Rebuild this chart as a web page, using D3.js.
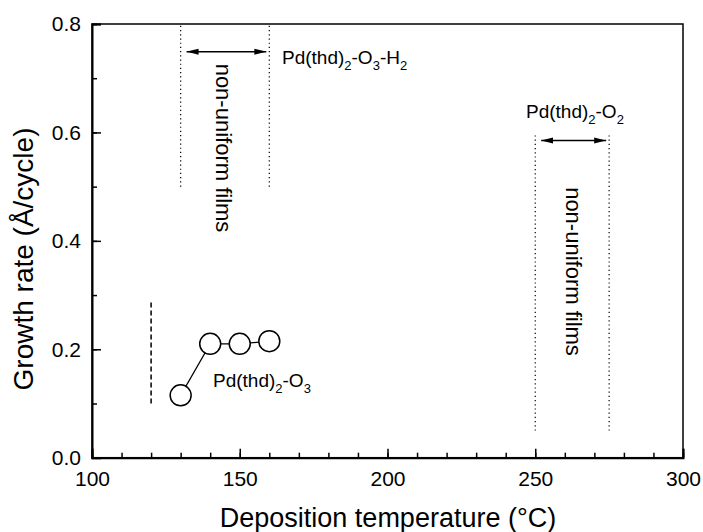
<!DOCTYPE html>
<html>
<head>
<meta charset="utf-8">
<script src="https://cdn.jsdelivr.net/npm/d3@7"></script>
<style>
  body { margin: 0; background: #fff; }
  text { font-family: Arial, "Liberation Sans", Helvetica, sans-serif; fill: #000; }
</style>
</head>
<body>
<div id="chart"></div>
<script>

// growth rate data, Pd(thd)2-O3
let temps = [130, 140, 150, 160];
let rates = [0.115, 0.21, 0.21, 0.215];

// axis ticks
let xMajor = [100, 150, 200, 250, 300];
let xMinor = d3.range(100, 301, 10);
let yMajor = [0.0, 0.2, 0.4, 0.6, 0.8];
let yMinor = d3.range(0, 0.81, 0.1);

// window lines [x, yFrom, yTo]
let dottedLines = [[130, 0.5, 0.8], [160, 0.5, 0.8], [250, 0.05, 0.6], [275, 0.05, 0.6]];
let dashedLines = [[120, 0.1, 0.29]];
// arrows [xFrom, xTo, y]
let arrows = [[132, 159, 0.749], [252, 274, 0.585]];

// label parts: [text, subscript?]
let labelO3H2 = [["Pd(thd)", 0], ["2", 1], ["-O", 0], ["3", 1], ["-H", 0], ["2", 1]];
let labelO2 = [["Pd(thd)", 0], ["2", 1], ["-O", 0], ["2", 1]];
let labelO3 = [["Pd(thd)", 0], ["2", 1], ["-O", 0], ["3", 1]];

let width = 703;
let height = 532;
let margin = { left: 92, top: 24, right: 20, bottom: 74.3 };

let svg = d3.select("#chart")
    .append("svg")
    .attr("width", width)
    .attr("height", height);

let x = d3.scaleLinear()
    .domain([100, 300])
    .range([margin.left, width - margin.right]);

let y = d3.scaleLinear()
    .domain([0, 0.8])
    .range([height - margin.bottom, margin.top]);

// frame
svg.append("rect")
    .attr("x", x(100))
    .attr("y", y(0.8))
    .attr("width", x(300) - x(100))
    .attr("height", y(0) - y(0.8))
    .attr("fill", "none")
    .attr("stroke", "#000")
    .attr("stroke-width", 1.5);

// x axis
let xAxisMinor = svg.append("g")
    .attr("transform", "translate(0," + y(0) + ")")
    .call(d3.axisBottom(x).tickValues(xMinor).tickSize(-5).tickFormat(""));
xAxisMinor.select(".domain").remove();

let xAxis = svg.append("g")
    .attr("transform", "translate(0," + y(0) + ")")
    .call(d3.axisBottom(x).tickValues(xMajor).tickSize(-9).tickPadding(13).tickFormat(d3.format("d")));
xAxis.select(".domain").attr("stroke-width", 2);

// y axis
let yAxisMinor = svg.append("g")
    .attr("transform", "translate(" + x(100) + ",0)")
    .call(d3.axisLeft(y).tickValues(yMinor).tickSize(-5).tickFormat(""));
yAxisMinor.select(".domain").remove();

let yAxis = svg.append("g")
    .attr("transform", "translate(" + x(100) + ",0)")
    .call(d3.axisLeft(y).tickValues(yMajor).tickSize(-9).tickPadding(11).tickFormat(d3.format(".1f")));
yAxis.select(".domain").attr("stroke-width", 2);

svg.selectAll(".tick line").attr("stroke", "#000").attr("stroke-width", 1.5);
svg.selectAll(".tick text")
    .style("font-size", "21px")
    .style("font-family", "Arial, 'Liberation Sans', Helvetica, sans-serif");

// axis titles
svg.append("text")
    .attr("x", 388)
    .attr("y", 527)
    .attr("text-anchor", "middle")
    .style("font-size", "27px")
    .text("Deposition temperature (°C)");

svg.append("text")
    .attr("transform", "translate(33,259) rotate(-90)")
    .attr("text-anchor", "middle")
    .style("font-size", "28px")
    .text("Growth rate (Å/cycle)");

// window lines
svg.selectAll("line.dotted")
    .data(dottedLines)
    .join("line")
    .attr("class", "dotted")
    .attr("x1", d => x(d[0]))
    .attr("x2", d => x(d[0]))
    .attr("y1", d => y(d[1]))
    .attr("y2", d => y(d[2]))
    .attr("stroke", "#000")
    .attr("stroke-width", 1.2)
    .attr("stroke-dasharray", "1.2,3");

svg.selectAll("line.dashed")
    .data(dashedLines)
    .join("line")
    .attr("class", "dashed")
    .attr("x1", d => x(d[0]))
    .attr("x2", d => x(d[0]))
    .attr("y1", d => y(d[1]))
    .attr("y2", d => y(d[2]))
    .attr("stroke", "#000")
    .attr("stroke-width", 1.5)
    .attr("stroke-dasharray", "5,3");

// arrows
let defs = svg.append("defs");
["start", "end"].forEach(function(k) {
    defs.append("marker")
        .attr("id", "arrow-" + k)
        .attr("viewBox", "0 0 12 8")
        .attr("refX", k === "end" ? 12 : 0)
        .attr("refY", 4)
        .attr("markerWidth", 12)
        .attr("markerHeight", 8)
        .attr("markerUnits", "userSpaceOnUse")
        .attr("orient", "auto")
        .append("path")
        .attr("d", k === "end" ? "M0,1 L12,4 L0,7 Z" : "M12,1 L0,4 L12,7 Z")
        .attr("fill", "#000");
});

svg.selectAll("line.arrow")
    .data(arrows)
    .join("line")
    .attr("class", "arrow")
    .attr("x1", d => x(d[0]))
    .attr("x2", d => x(d[1]))
    .attr("y1", d => y(d[2]))
    .attr("y2", d => y(d[2]))
    .attr("stroke", "#000")
    .attr("stroke-width", 1.5)
    .attr("marker-start", "url(#arrow-start)")
    .attr("marker-end", "url(#arrow-end)");

// data line + circles
let pts = temps.map((t, i) => [t, rates[i]]);

svg.append("path")
    .datum(pts)
    .attr("fill", "none")
    .attr("stroke", "#000")
    .attr("stroke-width", 1.2)
    .attr("d", d3.line().x(d => x(d[0])).y(d => y(d[1])));

svg.selectAll("circle.pt")
    .data(pts)
    .join("circle")
    .attr("class", "pt")
    .attr("cx", d => x(d[0]))
    .attr("cy", d => y(d[1]))
    .attr("r", 10.5)
    .attr("fill", "#fff")
    .attr("stroke", "#000")
    .attr("stroke-width", 1.5);

// labels with subscripts
const chemLabel = function(parts, px, py) {
    let t = svg.append("text")
        .attr("x", px)
        .attr("y", py)
        .style("font-size", "19px");
    let shifted = 0;
    parts.forEach(function(p) {
        let dy = 0;
        if (p[1] && !shifted) { dy = 6; shifted = 1; }
        else if (!p[1] && shifted) { dy = -6; shifted = 0; }
        t.append("tspan")
            .attr("dy", dy)
            .style("font-size", p[1] ? "13px" : "19px")
            .text(p[0]);
    });
    return t;
}

chemLabel(labelO3H2, 282, 64);
chemLabel(labelO2, 526, 118);
chemLabel(labelO3, 213, 386.5);

svg.append("text")
    .attr("transform", "translate(216,148) rotate(90)")
    .attr("text-anchor", "middle")
    .style("font-size", "22px")
    .text("non-uniform films");

svg.append("text")
    .attr("transform", "translate(566,271.5) rotate(90)")
    .attr("text-anchor", "middle")
    .style("font-size", "22px")
    .text("non-uniform films");

</script>
</body>
</html>
